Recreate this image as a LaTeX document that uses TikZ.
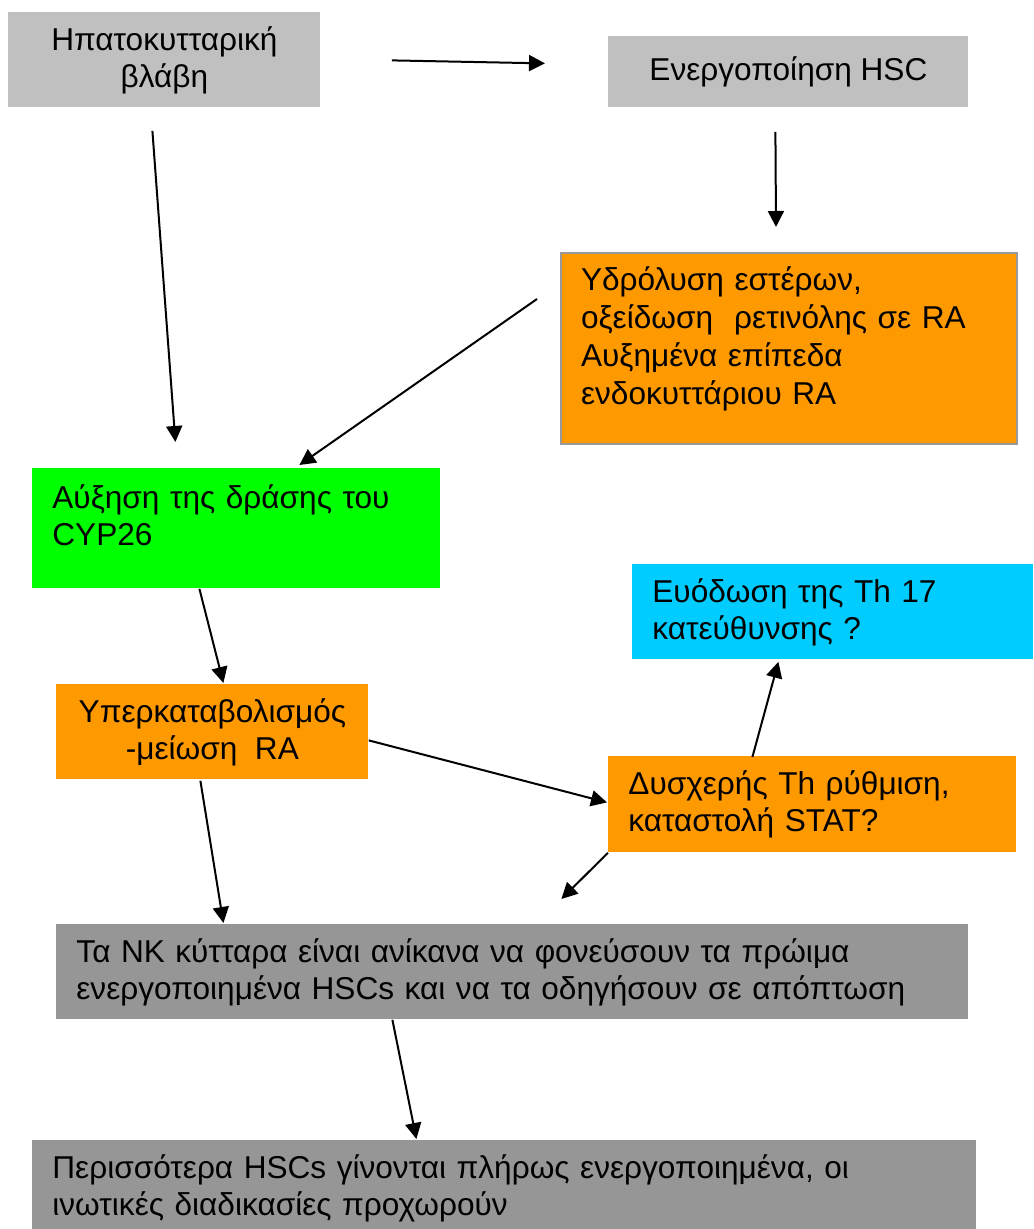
\documentclass[tikz,border=0pt]{standalone}
\usepackage{fontspec}
\setmainfont{Liberation Sans}
\usetikzlibrary{arrows.meta, calc}

\definecolor{lightgrey}{HTML}{C0C0C0}
\definecolor{darkgrey}{HTML}{969696}
\definecolor{orangebox}{HTML}{FF9900}
\definecolor{greenbox}{HTML}{00FF00}
\definecolor{cyanbox}{HTML}{00CCFF}
\definecolor{framegrey}{HTML}{999999}

\begin{document}
\begin{tikzpicture}[
  x=0.5pt, y=-0.5pt,
  box/.style={rectangle, anchor=north west, inner ysep=0pt, font=\fontsize{15.8pt}{18.5pt}\selectfont},
  cbox/.style={box, align=center, inner xsep=0pt},
  lbox/.style={box, align=left, inner xsep=10pt},
  arrow/.style={-{Triangle[length=8pt, width=8pt]}, line width=1pt},
]
\path[use as bounding box, clip] (0,0) rectangle (1033,1229);

\node[cbox, fill=lightgrey, minimum width=156pt, minimum height=47.5pt] (hepato) at (8,12) {Ηπατοκυτταρική\\βλάβη};
\node[cbox, fill=lightgrey, minimum width=180pt, minimum height=35.5pt] (hsc) at (608,36) {Ενεργοποίηση HSC};
\node[lbox, fill=orangebox, draw=framegrey, line width=1pt, text width=208pt, minimum width=228pt, minimum height=95.5pt, text depth=70pt, font=\fontsize{15.8pt}{19pt}\selectfont] (hydro) at (560,252) {Υδρόλυση εστέρων,\\οξείδωση~ ρετινόλης σε RA\\Αυξημένα επίπεδα\\ενδοκυττάριου RA};
\node[lbox, fill=greenbox, text width=184pt, minimum width=204pt, minimum height=60pt, text depth=32pt] (cyp) at (32,468) {Αύξηση της δράσης του\\CYP26};
\node[cbox, fill=orangebox, minimum width=156pt, minimum height=47.5pt] (hyper) at (56,684) {Υπερκαταβολισμός\\-μείωση~ RA};
\node[lbox, fill=cyanbox, text width=180.5pt, minimum width=200.5pt, minimum height=47.5pt] (th17) at (632,564) {Ευόδωση της Th 17\\κατεύθυνσης ?};
\node[lbox, fill=orangebox, text width=184pt, minimum width=204pt, minimum height=48pt] (dysreg) at (608,756) {Δυσχερής Th ρύθμιση,\\καταστολή STAT?};
\node[lbox, fill=darkgrey, text width=436pt, minimum width=456pt, minimum height=47.5pt] (nkcells) at (56,924) {Τα NK κύτταρα είναι ανίκανα να φονεύσουν τα πρώιμα\\ενεργοποιημένα HSCs και να τα οδηγήσουν σε απόπτωση};
\node[lbox, fill=darkgrey, text width=452pt, minimum width=472pt, minimum height=47.5pt] (fibro) at (32,1140) {Περισσότερα HSCs γίνονται πλήρως ενεργοποιημένα, οι\\ινωτικές διαδικασίες προχωρούν};

% Connections
\draw[arrow] ($(hepato.east)+(71,0.5)$) -- ($(hsc.west)+(-63,-8.5)$);
\draw[arrow] ($(hsc.south)+(-13,24)$) -- ($(hydro.north)+(-13,-25)$);
\draw[arrow] ($(hepato.south)+(-12,23)$) -- ($(cyp.north)+(-61,-26)$);
\draw[arrow] ($(hydro.west)+(-23,-49.5)$) -- ($(cyp.north)+(63,-3)$);
\draw[arrow] ($(cyp.south)+(-37,0)$) -- ($(hyper.north)+(11,-1)$);
\draw[arrow] ($(hyper.east)+(0,8.5)$) -- ($(dysreg.west)+(-1,-2)$);
\draw[arrow] ($(dysreg.north)+(-60,1)$) -- ($(th17.south)+(-54.5,2)$);
\draw[arrow] (dysreg.south west) -- ($(nkcells.north)+(49,-25)$);
\draw[arrow] ($(hyper.south)+(-12,1)$) -- ($(nkcells.north)+(-289,-1)$);
\draw[arrow] ($(nkcells.south)+(-120,0)$) -- ($(fibro.north)+(-88,-1)$);

\end{tikzpicture}
\end{document}
